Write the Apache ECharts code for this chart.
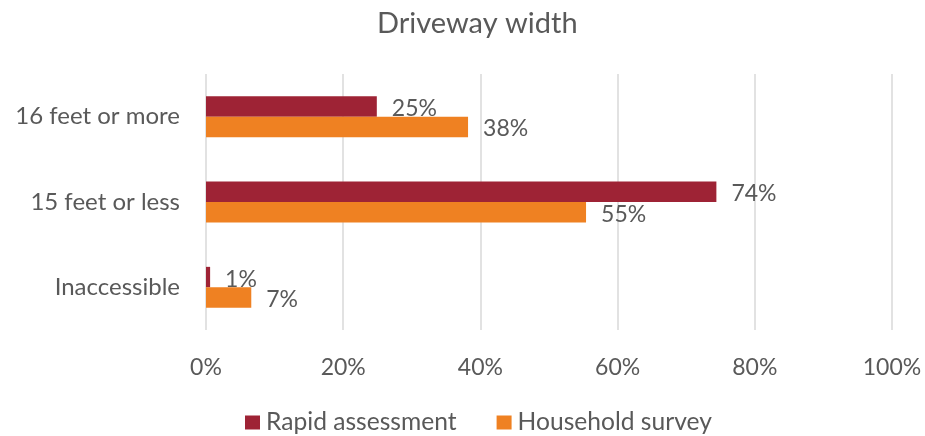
<!DOCTYPE html>
<html>
<head>
<meta charset="utf-8">
<script src="https://cdn.jsdelivr.net/npm/echarts@6/dist/echarts.min.js"></script>
<style>html,body{margin:0;padding:0;background:#fff;}#chart{width:925px;height:436px;}</style>
</head>
<body>
<div id="chart"></div>
<script>
const categories = ['16 feet or more', '15 feet or less', 'Inaccessible'];
const rapidAssessment = [24.9, 74.4, 0.6];
const householdSurvey = [38.2, 55.4, 6.6];
const xTicks = [0, 20, 40, 60, 80, 100];

const FONT = 'Lato';
const TEXT = '#595959';
const chart = echarts.init(document.getElementById('chart'));
chart.setOption({
  animation: false,
  textStyle: { fontFamily: FONT },
  title: {
    text: 'Driveway width',
    left: 372, top: 4,
    textStyle: { fontFamily: FONT, fontSize: 29, fontWeight: 'normal', color: TEXT }
  },
  legend: {
    top: 405, left: 240,
    itemWidth: 15, itemHeight: 14, itemGap: 40,
    icon: 'rect',
    textStyle: { fontFamily: FONT, fontSize: 24.6, color: TEXT, padding: [0, 0, 0, 1] },
    data: ['Rapid assessment', 'Household survey']
  },
  grid: { left: 206, right: 33, top: 74, bottom: 106, containLabel: false },
  xAxis: {
    type: 'value', min: 0, max: 100, interval: 20,
    axisLine: { show: false }, axisTick: { show: false },
    splitLine: { show: true, lineStyle: { color: '#d9d9d9', width: 1.5 } },
    axisLabel: { fontFamily: FONT, fontSize: 23, color: TEXT, margin: 26,
      formatter: v => xTicks.includes(v) ? v + '%' : '' }
  },
  yAxis: {
    type: 'category', inverse: true, data: categories,
    axisLine: { show: false }, axisTick: { show: false },
    axisLabel: { fontFamily: FONT, fontSize: 24, color: TEXT, margin: 26 }
  },
  series: [
    {
      name: 'Rapid assessment', type: 'bar', data: rapidAssessment,
      itemStyle: { color: '#9e2335' },
      barGap: '0%', barCategoryGap: '52%',
      label: { show: true, position: 'right', distance: 15, offset: [0, 2], fontFamily: FONT, fontSize: 23, color: TEXT,
        formatter: p => Math.round(p.value) + '%' }
    },
    {
      name: 'Household survey', type: 'bar', data: householdSurvey,
      itemStyle: { color: '#ef8122' },
      barGap: '0%', barCategoryGap: '52%',
      label: { show: true, position: 'right', distance: 15, offset: [0, 2], fontFamily: FONT, fontSize: 23, color: TEXT,
        formatter: p => Math.round(p.value) + '%' }
    }
  ]
});
</script>
</body>
</html>
